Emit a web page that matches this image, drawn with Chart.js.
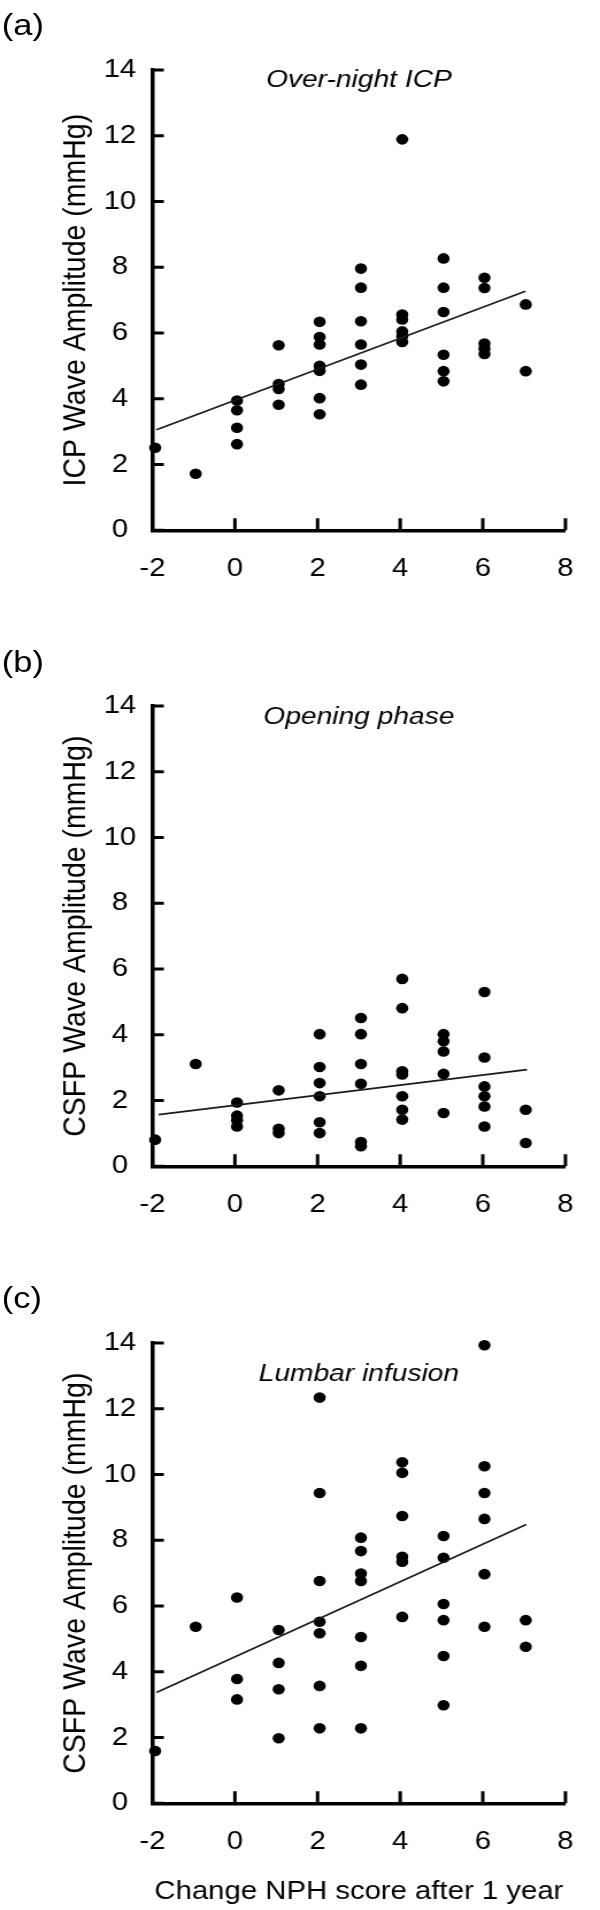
<!DOCTYPE html>
<html>
<head>
<meta charset="utf-8">
<script src="https://cdn.jsdelivr.net/npm/chart.js@4.4.1/dist/chart.umd.min.js"></script>
<style>
  html, body { margin: 0; padding: 0; background: #fff; }
  body { width: 600px; height: 1910px; position: relative; overflow: hidden; font-family: "Liberation Sans", Arial, sans-serif; }
  /* the source figure is a little wider than it is tall in its lettering, so the
     whole page is drawn 522px wide and stretched to 600px */
  #page { position: absolute; left: 0; top: 0; width: 522px; height: 1910px; transform: scaleX(1.14943); transform-origin: 0 0; }
  .panel { position: absolute; left: 0; width: 522px; }
  .tag { position: absolute; left: 1.5px; font-size: 30px; line-height: 30px; color: #000; }
</style>
</head>
<body>
<div id="page">
  <div class="tag" style="top:10px">(a)</div>
  <div class="tag" style="top:646.5px">(b)</div>
  <div class="tag" style="top:1282.5px">(c)</div>
  <div class="panel" style="top:0px;height:600px"><canvas id="chartA"></canvas></div>
  <div class="panel" style="top:636.3px;height:600px"><canvas id="chartB"></canvas></div>
  <div class="panel" style="top:1272.7px;height:637.3px"><canvas id="chartC"></canvas></div>
</div>
<script>
// x positions of the score columns (change in NPH score)
const scoreCols = [-1.93, -0.95, 0.05, 1.06, 2.05, 3.05, 4.05, 5.05, 6.04, 7.04];

// (a) over-night ICP wave amplitude, one list per score column
const icpAmp = [
    [2.51],
    [1.72],
    [3.95, 3.65, 3.12, 2.62],
    [5.63, 4.45, 4.3, 3.82],
    [6.34, 5.88, 5.65, 5.0, 4.85, 4.02, 3.53],
    [7.96, 7.38, 6.36, 5.65, 5.04, 4.43],
    [11.89, 6.56, 6.41, 6.05, 5.9, 5.73],
    [8.27, 7.38, 6.64, 5.34, 4.84, 4.53],
    [7.68, 7.37, 5.68, 5.53, 5.36],
    [6.87, 4.84],
];

// (b) opening phase CSFP wave amplitude
const openingAmp = [
    [0.81],
    [3.11],
    [1.94, 1.54, 1.4, 1.21],
    [2.31, 1.14, 1.01],
    [4.02, 3.02, 2.53, 2.13, 1.34, 1.01],
    [4.51, 4.02, 3.11, 2.51, 0.74, 0.61],
    [5.7, 4.81, 2.89, 2.79, 2.13, 1.72, 1.42],
    [4.02, 3.8, 3.49, 2.81, 1.62],
    [5.3, 3.31, 2.43, 2.13, 1.82, 1.21],
    [1.72, 0.71],
];

// (c) lumbar infusion CSFP wave amplitude
const infusionAmp = [
    [1.59],
    [5.37],
    [6.26, 3.78, 3.16],
    [5.27, 4.27, 3.47, 1.98],
    [12.34, 9.44, 6.76, 5.52, 5.17, 3.57, 2.28],
    [8.08, 7.67, 6.99, 6.76, 5.06, 4.18, 2.28],
    [10.37, 10.05, 8.74, 7.5, 7.35, 5.67],
    [8.13, 7.47, 6.06, 5.57, 4.48, 2.98],
    [13.93, 10.25, 9.44, 8.65, 6.97, 5.37],
    [5.57, 4.76],
];

// regression line end points
const fitAx = [-1.9, 7.03], fitAy = [3.06, 7.27];
const fitBx = [-1.85, 7.07], fitBy = [1.57, 2.94];
const fitCx = [-1.9, 7.05], fitCy = [3.37, 8.48];

const xTicks = [-2, 0, 2, 4, 6, 8];
const yTicks = [0, 2, 4, 6, 8, 10, 12, 14];

const FONT = "'Liberation Sans', Arial, sans-serif";

// tick marks point into the plot
const innerTicks = {
    id: "innerTicks",
    afterDraw(chart) {
        const { ctx, chartArea } = chart;
        const x = chart.scales.x, y = chart.scales.y;
        ctx.save();
        ctx.strokeStyle = "#000";
        ctx.lineWidth = 3;
        ctx.beginPath();
        yTicks.forEach((v) => {
            const py = y.getPixelForValue(v);
            ctx.moveTo(chartArea.left, py);
            ctx.lineTo(chartArea.left + 10, py);
        });
        xTicks.forEach((v) => {
            const px = x.getPixelForValue(v);
            ctx.moveTo(px, chartArea.bottom);
            ctx.lineTo(px, chartArea.bottom - 12);
        });
        ctx.stroke();
        ctx.restore();
    },
};

// italic caption inside the plot, and the axis titles
const labels = {
    id: "labels",
    afterDraw(chart, args, opts) {
        const { ctx, chartArea } = chart;
        const midX = (chartArea.left + chartArea.right) / 2;
        const midY = (chartArea.top + chartArea.bottom) / 2;
        ctx.save();
        ctx.fillStyle = "#000";
        ctx.textAlign = "center";
        ctx.textBaseline = "middle";

        ctx.font = "italic 24.5px " + FONT;
        ctx.fillText(opts.caption, midX, chartArea.top + opts.captionDy);

        if (opts.xTitle) {
            ctx.font = "25.5px " + FONT;
            ctx.fillText(opts.xTitle, midX, chartArea.bottom + 89);
        }
        ctx.font = "28.5px " + FONT;
        ctx.translate(66, midY);
        ctx.rotate(-Math.PI / 2);
        ctx.fillText(opts.yTitle, 0, 0);
        ctx.restore();
    },
};

function makePanel(id, amps, fitX, fitY, yTitle, caption, captionDy, xTitle, height) {
    const points = [];
    amps.forEach((col, i) => col.forEach((v) => points.push({ x: scoreCols[i], y: v })));
    const fit = fitX.map((v, i) => ({ x: v, y: fitY[i] }));

    new Chart(document.getElementById(id), {
        type: "scatter",
        data: {
            datasets: [
                {
                    data: fit,
                    showLine: true,
                    borderColor: "#1a1a1a",
                    borderWidth: 1.7,
                    pointRadius: 0,
                    clip: false,
                },
                {
                    data: points,
                    backgroundColor: "#000",
                    borderWidth: 0,
                    pointRadius: 5.3,
                    pointHoverRadius: 5.3,
                    clip: false,
                },
            ],
        },
        options: {
            responsive: true,
            maintainAspectRatio: false,
            animation: false,
            events: [],
            layout: { padding: { left: 0, top: 70, right: 7.2, bottom: 0 } },
            plugins: {
                legend: { display: false },
                tooltip: { enabled: false },
                labels: { caption: caption, captionDy: captionDy, xTitle: xTitle, yTitle: yTitle },
            },
            scales: {
                x: {
                    type: "linear",
                    min: -2,
                    max: 8,
                    afterBuildTicks: (s) => { s.ticks = xTicks.map((v) => ({ value: v })); },
                    afterFit: (s) => { s.height = height - 530.3; },
                    ticks: { color: "#000", padding: 23, font: { family: FONT, size: 25.5 } },
                    grid: { drawOnChartArea: false, drawTicks: false },
                    border: { display: true, color: "#000", width: 3.5 },
                },
                y: {
                    type: "linear",
                    min: 0,
                    max: 14,
                    afterBuildTicks: (s) => { s.ticks = yTicks.map((v) => ({ value: v })); },
                    afterFit: (s) => { s.width = 132.5; },
                    ticks: { color: "#000", padding: 14, crossAlign: "center", font: { family: FONT, size: 25.5 } },
                    grid: { drawOnChartArea: false, drawTicks: false },
                    border: { display: true, color: "#000", width: 3.5 },
                },
            },
        },
        plugins: [innerTicks, labels],
    });
}

makePanel("chartA", icpAmp, fitAx, fitAy, "ICP Wave Amplitude (mmHg)", "Over-night ICP", 10, "", 600);
makePanel("chartB", openingAmp, fitBx, fitBy, "CSFP Wave Amplitude (mmHg)", "Opening phase", 11, "", 600);
makePanel("chartC", infusionAmp, fitCx, fitCy, "CSFP Wave Amplitude (mmHg)", "Lumbar infusion", 31.5, "Change NPH score after 1 year", 637.3);
</script>
</body>
</html>
